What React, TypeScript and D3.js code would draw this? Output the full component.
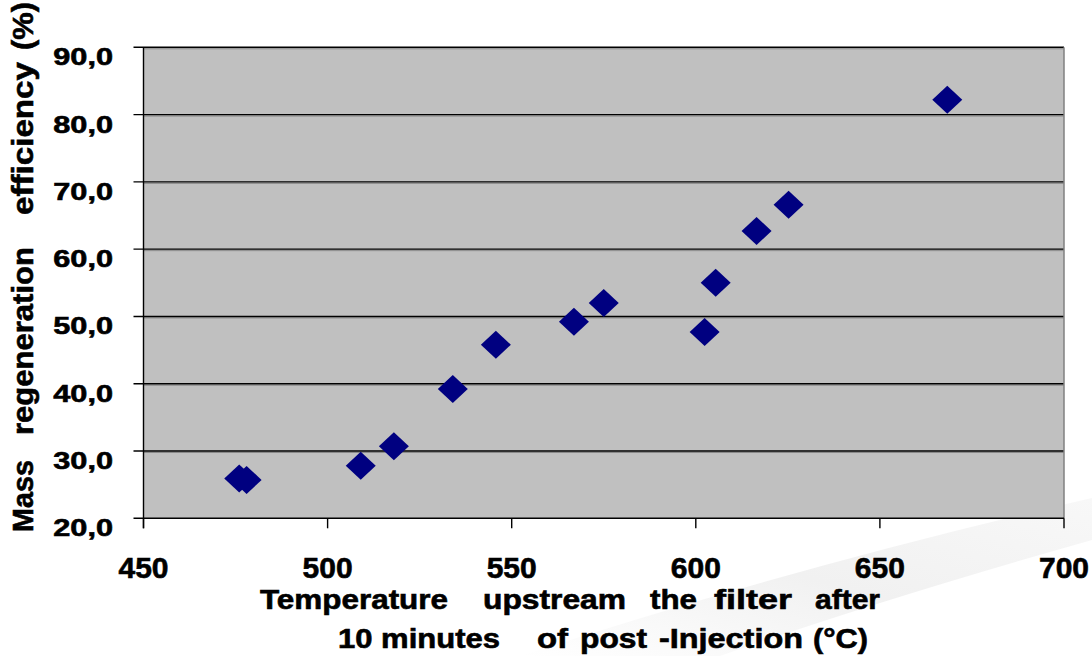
import React from "react";
import * as d3 from "d3";

const temperatures = [476.0, 478.0, 509.0, 518.0, 534.0, 545.7, 566.9, 575.0, 602.4, 605.4, 616.5, 625.2, 668.3];
const efficiencies = [25.9, 25.7, 27.8, 30.7, 39.2, 45.8, 49.2, 52.0, 47.7, 55.0, 62.7, 66.6, 82.2];
const xTicks = [450, 500, 550, 600, 650, 700];
const yTicks = [20, 30, 40, 50, 60, 70, 80, 90];

// axis title words with their measured extents
const xTitleLine1 = [
  { w: "Temperature", a: 260, b: 448 },
  { w: "upstream", a: 483, b: 626 },
  { w: "the", a: 650, b: 697 },
  { w: "filter", a: 714, b: 792 },
  { w: "after", a: 815, b: 880 },
];
const xTitleLine2 = [
  { w: "10 minutes", a: 338, b: 500 },
  { w: "of", a: 537, b: 568 },
  { w: "post", a: 580, b: 647 },
  { w: "-Injection", a: 659, b: 803 },
  { w: "(°C)", a: 813, b: 868 },
];
const yTitleWords = [
  { w: "Mass", a: 460, b: 532 },
  { w: "regeneration", a: 247, b: 435 },
  { w: "efficiency", a: 62, b: 215 },
  { w: "(%)", a: 2, b: 50 },
];

const W = 1092;
const H = 656;
const FONT = "'Liberation Sans', Arial, Helvetica, sans-serif";

export default function App() {
  const x = d3.scaleLinear().domain([450, 700]).range([143.5, 1064]);
  const y = d3.scaleLinear().domain([20, 90]).range([518.3, 47.3]);
  const left = x(450);
  const right = x(700);
  const top = y(90);
  const bottom = y(20);
  const diamond = "M0,-14L15,0L0,14L-15,0Z";
  const heavy = { stroke: "#000", strokeWidth: 0.6 };

  return (
    <svg
      width={W}
      height={H}
      style={{ position: "absolute", left: 0, top: 0, background: "#ffffff" }}
      fontFamily={FONT}
      fontWeight="bold"
    >
      <defs>
        <linearGradient id="swoosh" x1="0" y1="1" x2="1" y2="0">
          <stop offset="0" stopColor="#ffffff" />
          <stop offset="0.5" stopColor="#f1f1f1" />
          <stop offset="1" stopColor="#f8f8f8" />
        </linearGradient>
      </defs>
      <rect x={0} y={0} width={W} height={H} fill="#ffffff" />
      <path d="M 520 656 Q 800 565 1092 498 L 1092 540 Q 880 600 720 656 Z" fill="url(#swoosh)" />

      {/* plot background */}
      <rect x={left} y={top} width={right - left} height={bottom - top} fill="#c0c0c0" />

      {/* gridlines */}
      {yTicks.filter((t) => t > 20).map((t) => (
        <g key={"g" + t}>
          <line x1={left} x2={right} y1={y(t) + 1.5} y2={y(t) + 1.5} stroke="#8a8a8a" strokeWidth={1} />
          <line x1={left - 10} x2={right} y1={y(t)} y2={y(t)} stroke="#000" strokeWidth={1.4} />
        </g>
      ))}

      {/* right border */}
      <line x1={right} x2={right} y1={top} y2={bottom} stroke="#808080" strokeWidth={1.5} />

      {/* axes */}
      <line x1={left} x2={left} y1={top} y2={bottom + 10} stroke="#000" strokeWidth={1.4} />
      <line x1={left - 10} x2={right} y1={bottom} y2={bottom} stroke="#000" strokeWidth={1.4} />
      {xTicks.map((t) => (
        <line key={"xt" + t} x1={x(t)} x2={x(t)} y1={bottom} y2={bottom + 10} stroke="#000" strokeWidth={1.4} />
      ))}

      {/* y tick labels */}
      {yTicks.map((t) => (
        <text
          key={"yl" + t}
          transform={`translate(113,${y(t) + 18}) scale(1.28,1)`}
          textAnchor="end"
          fontSize={24}
          fill="#000"
          {...heavy}
        >
          {t.toFixed(1).replace(".", ",")}
        </text>
      ))}

      {/* x tick labels */}
      {xTicks.map((t) => (
        <text key={"xl" + t} x={x(t)} y={578} textAnchor="middle" fontSize={30} fill="#000" {...heavy}>
          {t}
        </text>
      ))}

      {/* x title */}
      {xTitleLine1.map((d) => (
        <text key={"a" + d.w} x={d.a} y={609} fontSize={27} textLength={d.b - d.a} lengthAdjust="spacingAndGlyphs" fill="#000" {...heavy}>
          {d.w}
        </text>
      ))}
      {xTitleLine2.map((d) => (
        <text key={"b" + d.w} x={d.a} y={648} fontSize={27} textLength={d.b - d.a} lengthAdjust="spacingAndGlyphs" fill="#000" xmlSpace="preserve" {...heavy}>
          {d.w}
        </text>
      ))}

      {/* y title */}
      <g transform="translate(33,0) rotate(-90)">
        {yTitleWords.map((d) => (
          <text key={"y" + d.w} x={-d.b} y={0} fontSize={29} textLength={d.b - d.a} lengthAdjust="spacingAndGlyphs" fill="#000" {...heavy}>
            {d.w}
          </text>
        ))}
      </g>

      {/* points */}
      {temperatures.map((t, i) => (
        <path key={"p" + i} d={diamond} transform={`translate(${x(t)},${y(efficiencies[i])})`} fill="#000080" />
      ))}
    </svg>
  );
}
